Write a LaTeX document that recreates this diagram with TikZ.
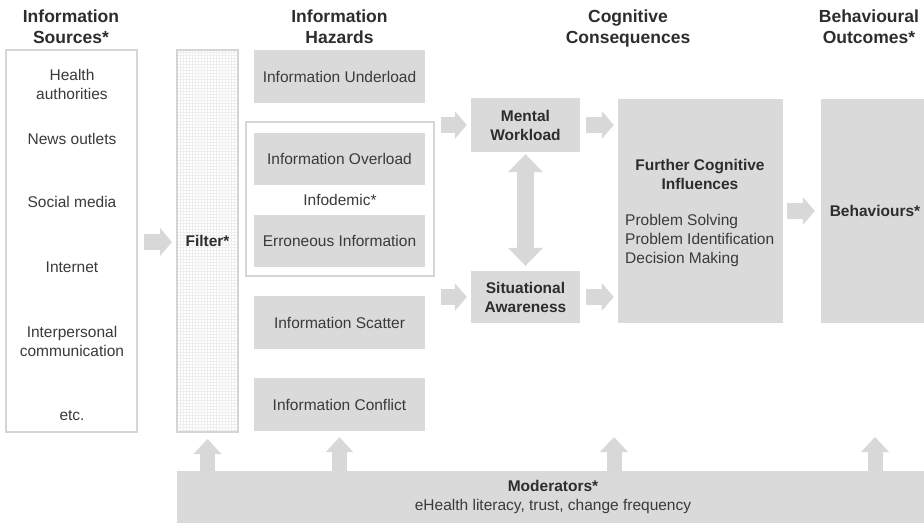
\documentclass[tikz,border=0pt]{standalone}
\usepackage{fontspec}
\setmainfont{Liberation Sans}
\usetikzlibrary{arrows.meta}
\definecolor{boxgray}{RGB}{218,218,219}
\definecolor{arrgray}{RGB}{216,216,217}
\definecolor{linegray}{RGB}{213,213,213}
\definecolor{gridgray}{RGB}{238,238,238}
\definecolor{txt}{RGB}{58,58,58}
\definecolor{btxt}{RGB}{45,45,45}
\begin{document}
\begin{tikzpicture}[x=1pt,y=-1pt,
  every node/.style={font=\fontsize{15.5}{19}\selectfont, text=txt, inner sep=0pt},
  title/.style={font=\bfseries\fontsize{17.5}{21}\selectfont, text=btxt, align=center},
  bold/.style={font=\bfseries\fontsize{15.5}{19}\selectfont, text=btxt, align=center},
  frame/.style={draw=linegray, line width=2pt, fill=white},
  hazbox/.style={fill=boxgray, minimum width=171pt, minimum height=53pt},
  graybox/.style={fill=boxgray},
  barrow/.style={draw=arrgray, line width=16pt, -{Triangle[width=28pt,length=12pt,line width=0pt]}},
  uarrow/.style={draw=arrgray, line width=15pt, -{Triangle[width=28pt,length=15pt,line width=0pt]}},
  darrow/.style={draw=arrgray, line width=17pt, {Triangle[width=35pt,length=18pt,line width=0pt]}-{Triangle[width=35pt,length=18pt,line width=0pt]}}
]
\useasboundingbox (0,0) rectangle (924,523);

% titles
\node[title] (t1) at (71,26.5) {Information\\Sources*};
\node[title] (t2) at (339.5,26.5) {Information\\Hazards};
\node[title] (t3) at (628,28.5) {Cognitive\\Consequences};
\node[title] (t4) at (869,26.5) {Behavioural\\Outcomes*};

% sources
\node[frame, minimum width=131pt, minimum height=382pt] (src) at (71.5,241) {};
\node[align=center] (s1) at (72,84) {Health\\authorities};
\node (s2) at (72,139) {News outlets};
\node (s3) at (72,202) {Social media};
\node (s4) at (72,267) {Internet};
\node[align=center] (s5) at (72,341) {Interpersonal\\communication};
\node (s6) at (72,416) {etc.};

% filter
\node[draw=linegray, line width=2pt, fill=white, minimum width=61pt, minimum height=382pt,
  path picture={\draw[gridgray, line width=0.3pt, step=3pt] (path picture bounding box.south west) grid (path picture bounding box.north east);}]
  (filter) at (207.5,241) {};
\node[bold] (filtert) at (207.5,241) {Filter*};

% hazards
\node[hazbox] (under) at (339.5,76.5) {Information Underload};
\node[frame, minimum width=188pt, minimum height=154pt] (infframe) at (340,199) {};
\node[hazbox, minimum height=52pt] (over) at (339.5,159) {Information Overload};
\node (infodemic) at (340,200) {Infodemic*};
\node[hazbox, minimum height=52pt] (err) at (339.5,241) {Erroneous Information};
\node[hazbox] (scatter) at (339.5,322.5) {Information Scatter};
\node[hazbox] (conflict) at (339.5,404.5) {Information Conflict};

% cognitive
\node[graybox, bold, minimum width=109pt, minimum height=54pt] (mw) at (525.5,125) {Mental\\Workload};
\node[graybox, bold, minimum width=109pt, minimum height=52pt] (sa) at (525.5,297) {Situational\\Awareness};
\node[graybox, minimum width=165pt, minimum height=224pt] (fci) at (700.5,211) {};
\node[bold] (fcih) at (700,174) {Further Cognitive\\Influences};
\node[align=left, anchor=west] (fcil) at (625,240) {Problem Solving\\Problem Identification\\Decision Making};

% behaviours
\node[graybox, bold, minimum width=103pt, minimum height=224pt] (beh) at (872.5,211) {};
\node[bold] (beht) at (875,211) {Behaviours*};

% moderators
\node[graybox, minimum width=747pt, minimum height=52pt] (mod) at (550.5,497) {};
\node[align=center] (modt) at (553,497) {\textbf{\color{btxt}Moderators*}\\eHealth literacy, trust, change frequency};

% horizontal arrows
\draw[barrow] ([xshift=6pt]src.east |- 0,242) -- ([xshift=-4pt]filter.west |- 0,242);
\draw[barrow] ([xshift=6pt]infframe.east |- mw.west) -- ([xshift=-4pt]mw.west);
\draw[barrow] ([xshift=6pt]infframe.east |- sa.west) -- ([xshift=-4pt]sa.west);
\draw[barrow] ([xshift=6pt]mw.east) -- ([xshift=-4pt]fci.west |- mw.east);
\draw[barrow] ([xshift=6pt]sa.east) -- ([xshift=-4pt]fci.west |- sa.east);
\draw[barrow] ([xshift=4pt]fci.east) -- ([xshift=-6pt]beh.west);

% double arrow
\draw[darrow] ([yshift=-2pt]mw.south) -- ([yshift=5pt]sa.north);

% up arrows
\coordinate (cogup) at (614,437);
\draw[uarrow] (mod.north -| filter.south) -- ([yshift=-6pt]filter.south);
\draw[uarrow] (mod.north -| conflict.south) -- ([yshift=-6pt]conflict.south);
\draw[uarrow] (mod.north -| cogup) -- (cogup);
\draw[uarrow] (mod.north -| beht.south) -- (beht.south |- cogup);
\end{tikzpicture}
\end{document}
